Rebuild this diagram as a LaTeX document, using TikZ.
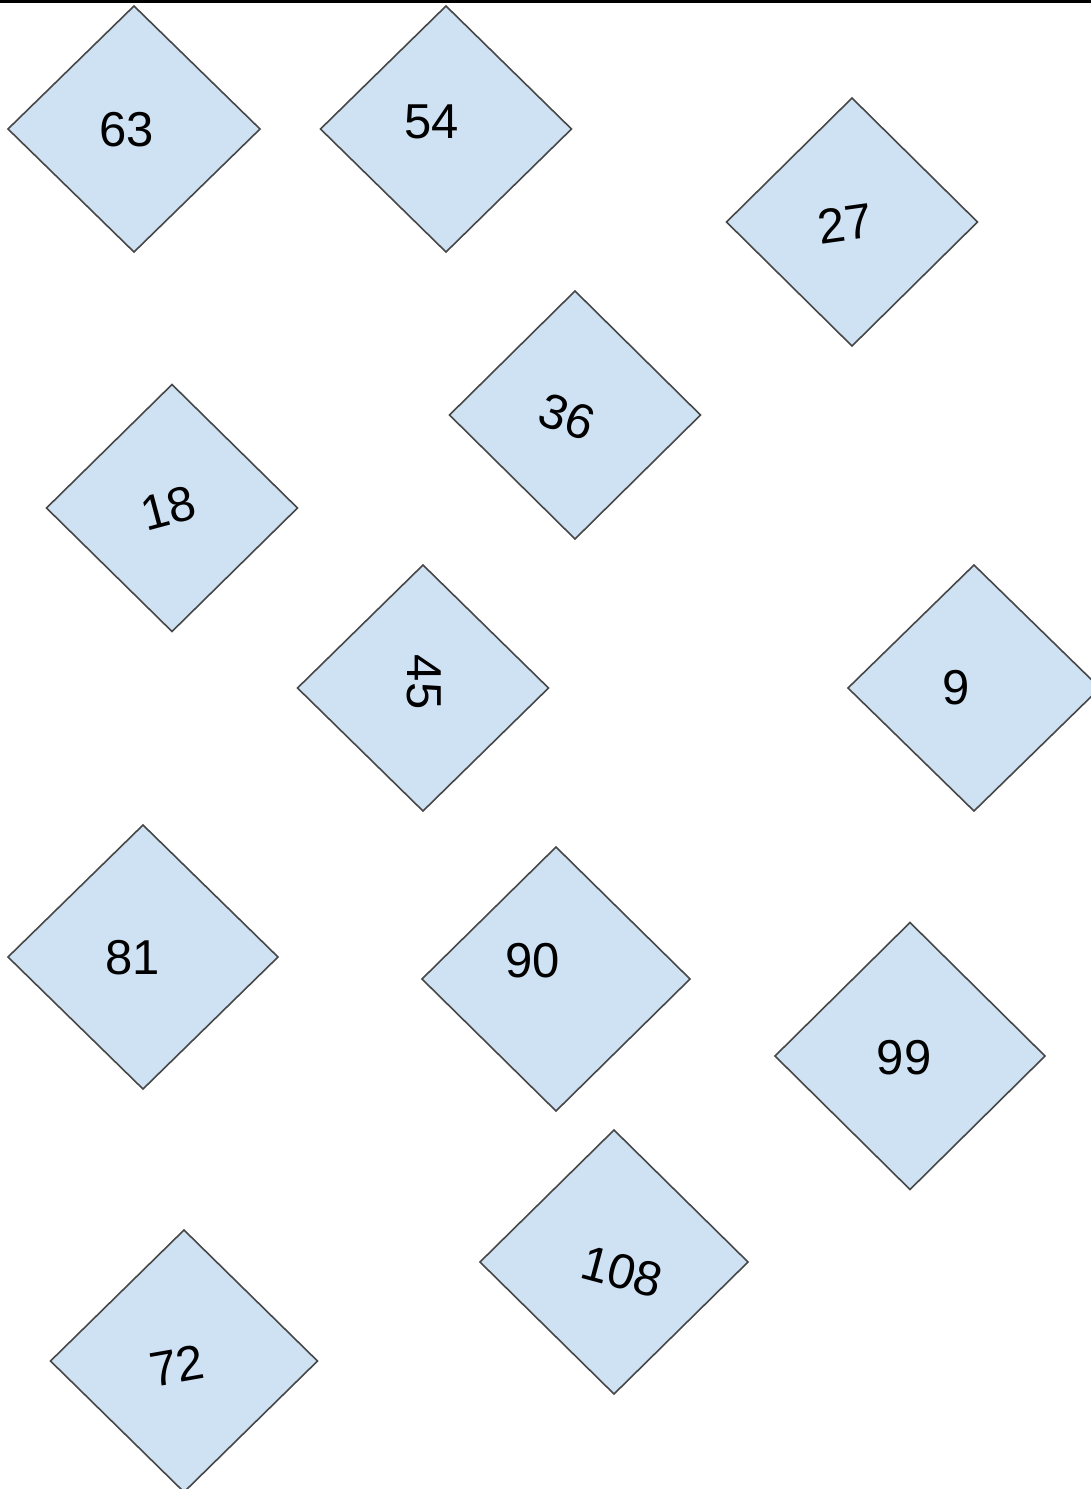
\documentclass[tikz,border=0pt]{standalone}
\usepackage{fontspec}
\setmainfont{Liberation Sans}
\usetikzlibrary{shapes.geometric}
\definecolor{dfill}{HTML}{CFE2F3}
\definecolor{dline}{HTML}{474747}
\begin{document}
\begin{tikzpicture}[x=1pt,y=-1pt,
  dia/.style={diamond, draw=dline, fill=dfill, line width=1.6pt, inner sep=0pt, outer sep=0pt},
  lab/.style={font=\fontsize{49}{52}\selectfont, inner sep=0pt, text=black}]
\useasboundingbox (0,0) rectangle (1091,1489);
\clip (0,0) rectangle (1091,1489);
\coordinate (tl) at (0,1.3);
\coordinate (tr) at (1091,1.3);
\draw[line width=2.8pt, black] (tl) -- (tr);
% diamonds
\node[dia, minimum width=252pt, minimum height=246pt] (d63) at (134,129) {};
\node[dia, minimum width=251pt, minimum height=246pt] (d54) at (446,129) {};
\node[dia, minimum width=251pt, minimum height=248pt] (d27) at (852,222) {};
\node[dia, minimum width=251pt, minimum height=248pt] (d36) at (575,415) {};
\node[dia, minimum width=251pt, minimum height=247pt] (d18) at (172,508) {};
\node[dia, minimum width=251pt, minimum height=246pt] (d45) at (423,688) {};
\node[dia, minimum width=252pt, minimum height=246pt] (d9) at (974,688) {};
\node[dia, minimum width=270pt, minimum height=264pt] (d81) at (143,957) {};
\node[dia, minimum width=268pt, minimum height=264pt] (d90) at (556,979) {};
\node[dia, minimum width=270pt, minimum height=267pt] (d99) at (910,1056) {};
\node[dia, minimum width=268pt, minimum height=264pt] (d108) at (614,1262) {};
\node[dia, minimum width=267pt, minimum height=262pt] (d72) at (184,1361) {};
% labels
\node[lab] (t63) at (127,130) {63};
\node[lab] (t54) at (432,122) {54};
\node[lab, rotate=8] (t27) at (845,224) {27};
\node[lab, rotate=-20] (t36) at (567,417) {36};
\node[lab, rotate=15] (t18) at (168,508) {18};
\node[lab, rotate=-90] (t45) at (424,682) {45};
\node[lab] (t9) at (956,688) {9};
\node[lab] (t81) at (133,958) {81};
\node[lab] (t90) at (533,961) {90};
\node[lab] (t99) at (904,1058) {99};
\node[lab, rotate=-15] (t108) at (622,1272) {108};
\node[lab, rotate=10] (t72) at (177,1366) {72};
\end{tikzpicture}
\end{document}
